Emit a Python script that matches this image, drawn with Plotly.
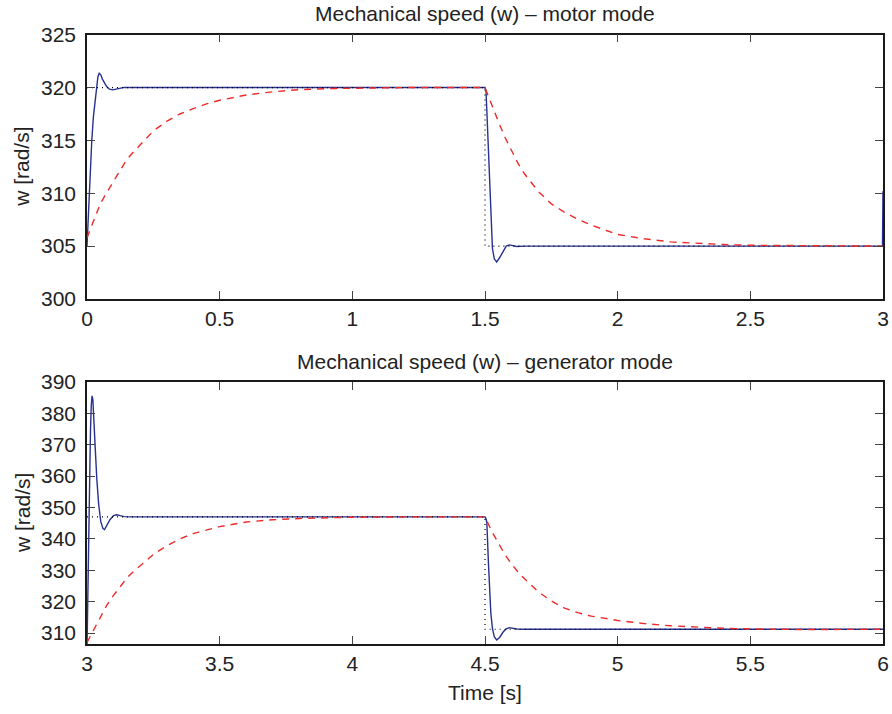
import plotly.graph_objects as go

# ---------------- motor mode (0 - 3 s) ----------------
t_motor_ref = [0.0, 1.5, 1.5, 3.0]
w_motor_ref = [320.0, 320.0, 305.0, 305.0]

t_motor_w = [0.0, 0.006, 0.012, 0.018, 0.024, 0.030, 0.036, 0.041, 0.046, 0.052,
             0.058, 0.066, 0.074, 0.085, 0.097, 0.11, 0.125, 0.14, 0.17, 1.5,
             1.504, 1.509, 1.513, 1.518, 1.522, 1.528, 1.535, 1.544, 1.555, 1.569,
             1.58, 1.592, 1.605, 1.62, 1.65, 2.998, 3.0]
w_motor_w = [305.0, 308.5, 312.2, 315.0, 317.2, 318.8, 320.2, 321.0, 321.35, 321.2,
             320.8, 320.4, 320.1, 319.85, 319.78, 319.85, 319.97, 320.02, 320.0, 320.0,
             319.6, 316.5, 313.1, 309.8, 306.8, 304.8, 303.8, 303.5, 303.9, 304.6,
             305.0, 305.12, 305.05, 304.97, 305.0, 305.0, 310.2]

t_motor_model = [0.0, 0.025, 0.05, 0.075, 0.1, 0.125, 0.15, 0.175, 0.2, 0.25, 0.3,
                 0.35, 0.4, 0.45, 0.5, 0.6, 0.7, 0.8, 0.9, 1.0, 1.2, 1.5, 1.525,
                 1.55, 1.575, 1.6, 1.625, 1.65, 1.7, 1.75, 1.8, 1.85, 1.9, 2.0, 2.1,
                 2.2, 2.3, 2.4, 2.5, 2.7, 3.0]
w_motor_model = [305.8, 307.5, 309.0, 310.1, 311.1, 312.2, 313.2, 313.9, 314.6, 315.9,
                 316.8, 317.5, 318.0, 318.45, 318.8, 319.3, 319.6, 319.8, 319.9, 319.95,
                 320.0, 320.0, 318.3, 316.8, 315.3, 314.0, 312.8, 311.8, 310.2, 309.0,
                 308.2, 307.55, 307.0, 306.1, 305.7, 305.4, 305.25, 305.15, 305.08,
                 305.03, 305.0]

# ---------------- generator mode (3 - 6 s) ----------------
t_gen_ref = [3.0, 4.5, 4.5, 6.0]
w_gen_ref = [347.0, 347.0, 311.2, 311.2]

t_gen_w = [3.0, 3.002, 3.005, 3.009, 3.013, 3.016, 3.019, 3.022, 3.026, 3.031,
           3.037, 3.044, 3.052, 3.06, 3.066, 3.075, 3.087, 3.1, 3.112, 3.125,
           3.14, 3.17, 4.5, 4.504, 4.507, 4.513, 4.518, 4.522, 4.528, 4.535,
           4.544, 4.555, 4.569, 4.58, 4.592, 4.605, 4.62, 4.65, 6.0]
w_gen_w = [305.0, 318.0, 335.0, 356.0, 374.0, 382.5, 385.6, 384.5, 379.0, 369.0,
           359.0, 351.0, 345.5, 343.3, 343.0, 344.3, 346.2, 347.4, 347.7, 347.4,
           347.1, 347.0, 347.0, 346.4, 345.0, 332.2, 322.5, 316.3, 311.5, 308.8,
           307.8, 308.6, 310.4, 311.3, 311.7, 311.5, 311.3, 311.2, 311.2]

t_gen_model = [3.0, 3.02, 3.05, 3.075, 3.1, 3.125, 3.15, 3.175, 3.2, 3.25, 3.3, 3.35,
               3.4, 3.45, 3.5, 3.6, 3.7, 3.8, 3.9, 4.0, 4.2, 4.5, 4.525, 4.55, 4.575,
               4.6, 4.625, 4.65, 4.7, 4.75, 4.8, 4.85, 4.9, 5.0, 5.1, 5.2, 5.3, 5.4,
               5.5, 5.7, 6.0]
w_gen_model = [307.0, 310.2, 315.3, 318.9, 322.0, 324.9, 327.5, 329.6, 331.5, 335.0,
               337.8, 340.0, 341.7, 342.9, 343.9, 345.4, 346.1, 346.5, 346.75, 346.9,
               347.0, 347.0, 342.5, 338.5, 335.0, 332.0, 329.4, 327.2, 323.2, 320.2,
               317.9, 316.5, 315.4, 314.0, 313.0, 312.3, 311.8, 311.5, 311.3, 311.1,
               311.2]

motor_xticks = [0, 0.5, 1, 1.5, 2, 2.5, 3]
motor_xlabels = ["0", "0.5", "1", "1.5", "2", "2.5", "3"]
motor_yticks = [300, 305, 310, 315, 320, 325]
gen_xticks = [3, 3.5, 4, 4.5, 5, 5.5, 6]
gen_xlabels = ["3", "3.5", "4", "4.5", "5", "5.5", "6"]
gen_yticks = [310, 320, 330, 340, 350, 360, 370, 380, 390]

titles = ["Mechanical speed (w) \u2013 motor mode", "Mechanical speed (w) \u2013 generator mode"]
y_label = "w [rad/s]"
x_label = "Time [s]"

BLUE = "#27318f"
RED = "#ee2a2a"
FONT = "Liberation Sans, Arial, Helvetica, sans-serif"
TXT = "#222222"

W, H = 892, 714
x0, x1 = 87, 883
top_box = (34.7, 299)
bot_box = (382, 644)


def ydom(box):
    return [1 - box[1] / H, 1 - box[0] / H]


fig = go.Figure()


def add_panel(t_w, w_w, t_ref, w_ref, t_mod, w_mod, xa, ya):
    fig.add_trace(go.Scatter(x=t_w, y=w_w, mode="lines", xaxis=xa, yaxis=ya,
                             line=dict(color=BLUE, width=1.4), showlegend=False,
                             hoverinfo="skip"))
    fig.add_trace(go.Scatter(x=t_ref, y=w_ref, mode="lines", xaxis=xa, yaxis=ya,
                             line=dict(color="#000000", width=1.2, dash="1px,4px"),
                             showlegend=False, hoverinfo="skip"))
    fig.add_trace(go.Scatter(x=t_mod, y=w_mod, mode="lines", xaxis=xa, yaxis=ya,
                             line=dict(color=RED, width=1.4, dash="7px,6px"),
                             showlegend=False, hoverinfo="skip"))


add_panel(t_motor_w, w_motor_w, t_motor_ref, w_motor_ref, t_motor_model, w_motor_model, "x", "y")
add_panel(t_gen_w, w_gen_w, t_gen_ref, w_gen_ref, t_gen_model, w_gen_model, "x2", "y2")

axis_common = dict(showline=True, mirror="allticks", linecolor="#1a1a1a", linewidth=1.5,
                   ticks="inside", ticklen=8, tickwidth=1.2, tickcolor="#444444",
                   showgrid=False, zeroline=False, automargin=False,
                   tickfont=dict(family=FONT, size=21, color=TXT))

fig.update_layout(
    width=W, height=H,
    margin=dict(l=0, r=0, t=0, b=0),
    paper_bgcolor="white", plot_bgcolor="white",
    xaxis=dict(domain=[x0 / W, x1 / W], range=[0, 3], anchor="y",
               tickvals=motor_xticks, ticktext=motor_xlabels, ticklabelstandoff=0,
               **axis_common),
    yaxis=dict(domain=ydom(top_box), range=[300, 325], anchor="x",
               tickvals=motor_yticks, ticklabelstandoff=5, **axis_common),
    xaxis2=dict(domain=[x0 / W, x1 / W], range=[3, 6], anchor="y2",
                tickvals=gen_xticks, ticktext=gen_xlabels, ticklabelstandoff=0,
                **axis_common),
    yaxis2=dict(domain=ydom(bot_box), range=[306.5, 390], anchor="x2",
                tickvals=gen_yticks, ticklabelstandoff=5, **axis_common),
)

xc = (x0 + x1) / 2 / W
for title, box in zip(titles, [top_box, bot_box]):
    fig.add_annotation(text=title, x=xc, y=1 - (box[0] - 21) / H, xref="paper", yref="paper",
                       showarrow=False, xanchor="center", yanchor="middle",
                       font=dict(family=FONT, size=21, color=TXT))
    fig.add_annotation(text=y_label, x=22 / W, y=1 - ((box[0] + box[1]) / 2) / H,
                       xref="paper", yref="paper", showarrow=False, textangle=-90,
                       xanchor="center", yanchor="middle",
                       font=dict(family=FONT, size=21, color=TXT))

fig.add_annotation(text=x_label, x=xc, y=1 - 692 / H, xref="paper", yref="paper",
                   showarrow=False, xanchor="center", yanchor="middle",
                   font=dict(family=FONT, size=21, color=TXT))

fig.write_html("out.html")
